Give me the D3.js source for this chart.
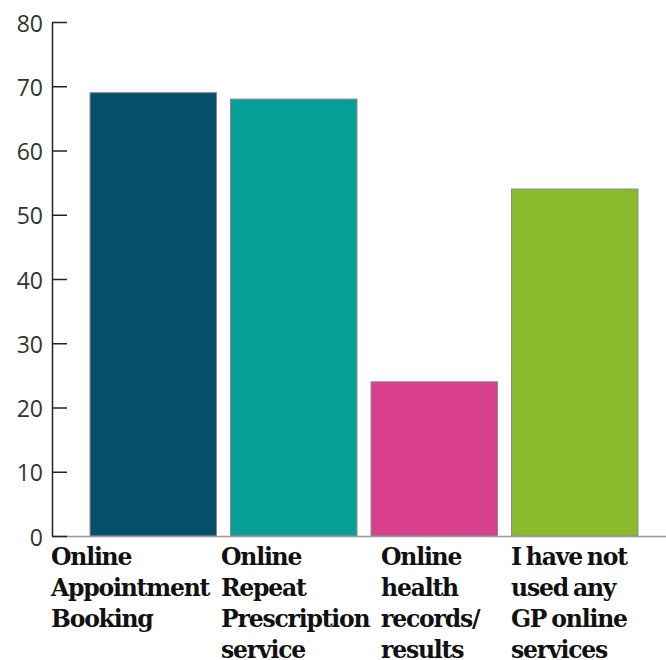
<!DOCTYPE html>
<meta charset="utf-8">
<style>
  body{ margin: 0; background: #fff; }
  .tick text{
    font-family: 'Open Sans', sans-serif;
    font-size: 23px;
    fill: #333;
  }
  .label{
    font-family: 'DejaVu Serif', serif;
    font-weight: bold;
    font-size: 23.5px;
    letter-spacing: -1.2px;
    word-spacing: -2px;
    fill: #111;
  }
</style>

<svg width="666" height="660"></svg>

<script src="https://d3js.org/d3.v7.min.js"></script>
<script>
  // data
  const categories = [
    ['Online', 'Appointment', 'Booking'],
    ['Online', 'Repeat', 'Prescription', 'service'],
    ['Online', 'health', 'records/', 'results'],
    ['I have not', 'used any', 'GP online', 'services']
  ]
  const values = [69, 68, 24, 54]
  const colors = ['#054f6b', '#069f98', '#d8408e', '#8aba2c']
  const yTicks = [0, 10, 20, 30, 40, 50, 60, 70, 80]

  // visual values
  const axisX = 52, plotTop = 22, plotBottom = 536
  const labelX = [51, 221, 381, 511]

  const svg = d3.select('svg')

  const x = d3.scaleBand()
    .domain(d3.range(values.length))
    .range([83, 645])
    .paddingInner(0.1)
    .paddingOuter(0.05)

  const y = d3.scaleLinear()
    .domain([0, 80])
    .range([plotBottom, plotTop])

  // bars
  svg.selectAll('rect')
    .data(values)
    .enter()
    .append('rect')
    .attr('x', (d, i) => x(i))
    .attr('y', d => y(d))
    .attr('width', x.bandwidth())
    .attr('height', d => plotBottom - y(d))
    .attr('fill', (d, i) => colors[i])
    .attr('stroke', '#8a8a8a')
    .attr('stroke-width', 1)

  // x baseline
  svg.append('line')
    .attr('x1', axisX).attr('x2', 666)
    .attr('y1', plotBottom + 0.5).attr('y2', plotBottom + 0.5)
    .attr('stroke', '#999').attr('stroke-width', 1.5)

  // y axis with inward ticks
  const yAxis = d3.axisRight(y)
    .tickValues(yTicks)
    .tickSize(15)
    .tickSizeOuter(0)
  const g = svg.append('g')
    .attr('transform', 'translate(' + axisX + ',0)')
    .call(yAxis)
  g.select('.domain').attr('stroke', '#222').attr('stroke-width', 1.5)
  g.selectAll('.tick line').attr('stroke', '#222').attr('stroke-width', 1.5)
  g.selectAll('.tick text')
    .attr('x', -9)
    .attr('dy', '0.4em')
    .attr('text-anchor', 'end')

  // category labels
  categories.forEach((lines, i) => {
    const t = svg.append('text')
      .attr('class', 'label')
      .attr('x', labelX[i])
      .attr('y', 565)
    t.selectAll('tspan')
      .data(lines)
      .enter()
      .append('tspan')
      .attr('x', labelX[i])
      .attr('dy', (d, j) => j === 0 ? 0 : 31)
      .text(d => d)
  })
</script>
